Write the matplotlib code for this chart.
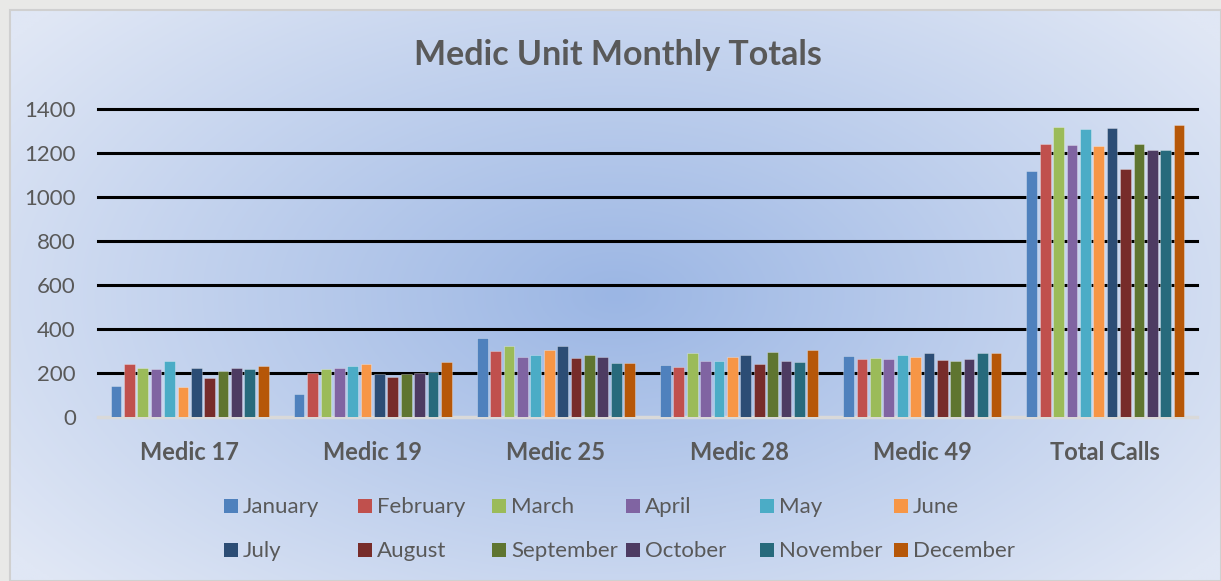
import numpy as np
import matplotlib.pyplot as plt
from matplotlib.patches import Rectangle

plt.rcParams['font.family'] = ['Lato', 'DejaVu Sans']

units = ['Medic 17', 'Medic 19', 'Medic 25', 'Medic 28', 'Medic 49', 'Total Calls']
months = ['January', 'February', 'March', 'April', 'May', 'June',
          'July', 'August', 'September', 'October', 'November', 'December']

# calls per month, one list per unit (same order as months)
medic17 = [141, 242, 221, 217, 253, 136, 223, 179, 208, 221, 218, 232]
medic19 = [105, 201, 217, 223, 233, 242, 194, 182, 195, 201, 205, 250]
medic25 = [358, 301, 323, 274, 283, 305, 324, 267, 283, 274, 247, 247]
medic28 = [236, 229, 291, 255, 256, 273, 280, 241, 297, 253, 249, 303]
medic49 = [277, 264, 267, 262, 280, 274, 289, 259, 255, 262, 292, 289]
total = [1118, 1240, 1319, 1237, 1307, 1234, 1314, 1129, 1240, 1215, 1215, 1328]

colors = ['#4F81BD', '#C0504D', '#9BBB59', '#8064A2', '#4BACC6', '#F79646',
          '#2C4D75', '#772C2A', '#5F7530', '#4D3B62', '#276A7C', '#B65708']

W, H = 1221, 581
fig = plt.figure(figsize=(W / 100, H / 100), dpi=100)
fig.patch.set_facecolor('#e9e9e7')

# chart area background: soft radial blue gradient
bg = fig.add_axes([10 / W, 0, (W - 10) / W, (H - 10) / H], zorder=-5)
yy, xx = np.mgrid[0:1:300j, 0:1:600j]
r = np.sqrt(((xx - 0.5) / 0.62) ** 2 + ((yy - 0.5) / 0.75) ** 2)
r = np.clip(r, 0, 1)
c_in = np.array([155, 182, 228]) / 255
c_out = np.array([224, 231, 245]) / 255
img = c_in[None, None, :] * (1 - r[..., None]) + c_out[None, None, :] * r[..., None]
bg.imshow(img, aspect='auto', extent=[0, 1, 0, 1])
bg.set_xlim(0, 1)
bg.set_ylim(0, 1)
bg.axis('off')
bg.add_patch(Rectangle((0, 0), 1, 1, transform=bg.transAxes, fill=False,
                       edgecolor='#d0d0d0', linewidth=1.5, clip_on=False))

ax = fig.add_axes([98 / W, (H - 417) / H, (1197 - 98) / W, (417 - 109) / H])
ax.patch.set_alpha(0)

data = np.array([medic17, medic19, medic25, medic28, medic49, total])
x = np.arange(len(units))
slot = 0.0731
bw = 0.0584
for i, m in enumerate(months):
    ax.bar(x + (i - 5.5) * slot, data[:, i], width=bw, color=colors[i],
           edgecolor=(1, 1, 1, 0.35), linewidth=0.6, zorder=3, label=m)

ax.set_xlim(-0.5, 5.5)
ax.set_ylim(0, 1400)
yticks = [0, 200, 400, 600, 800, 1000, 1200, 1400]
for t in yticks[1:]:
    ax.axhline(t, color='black', linewidth=2.2, zorder=1, clip_on=False)
ax.axhline(0, color='#d9d9d9', linewidth=2.5, zorder=2, clip_on=False)

ax.set_yticks(yticks)
ax.set_xticks(x)
ax.set_xticklabels(units, fontsize=17, fontweight='bold', color='#595959')
ax.tick_params(axis='x', length=0, pad=17)
ax.tick_params(axis='y', length=0, pad=16, labelsize=16, labelcolor='#595959')
for s in ax.spines.values():
    s.set_visible(False)

fig.text(618 / W, 1 - 55 / H, 'Medic Unit Monthly Totals', ha='center', va='center',
         fontsize=24.5, fontweight='bold', color='#595959')

# legend laid out in two rows of six like the original
for i, m in enumerate(months):
    col, row = i % 6, i // 6
    lx = 224 + col * 134
    ly = 506 + row * 44
    fig.patches.append(Rectangle((lx / W, 1 - (ly + 7) / H), 14 / W, 14 / H,
                                 transform=fig.transFigure, facecolor=colors[i],
                                 edgecolor='none'))
    fig.text((lx + 19) / W, 1 - (ly + 1) / H, m, ha='left', va='center',
             fontsize=16, color='#595959')

fig.savefig('out.png', dpi=100, facecolor=fig.get_facecolor())
